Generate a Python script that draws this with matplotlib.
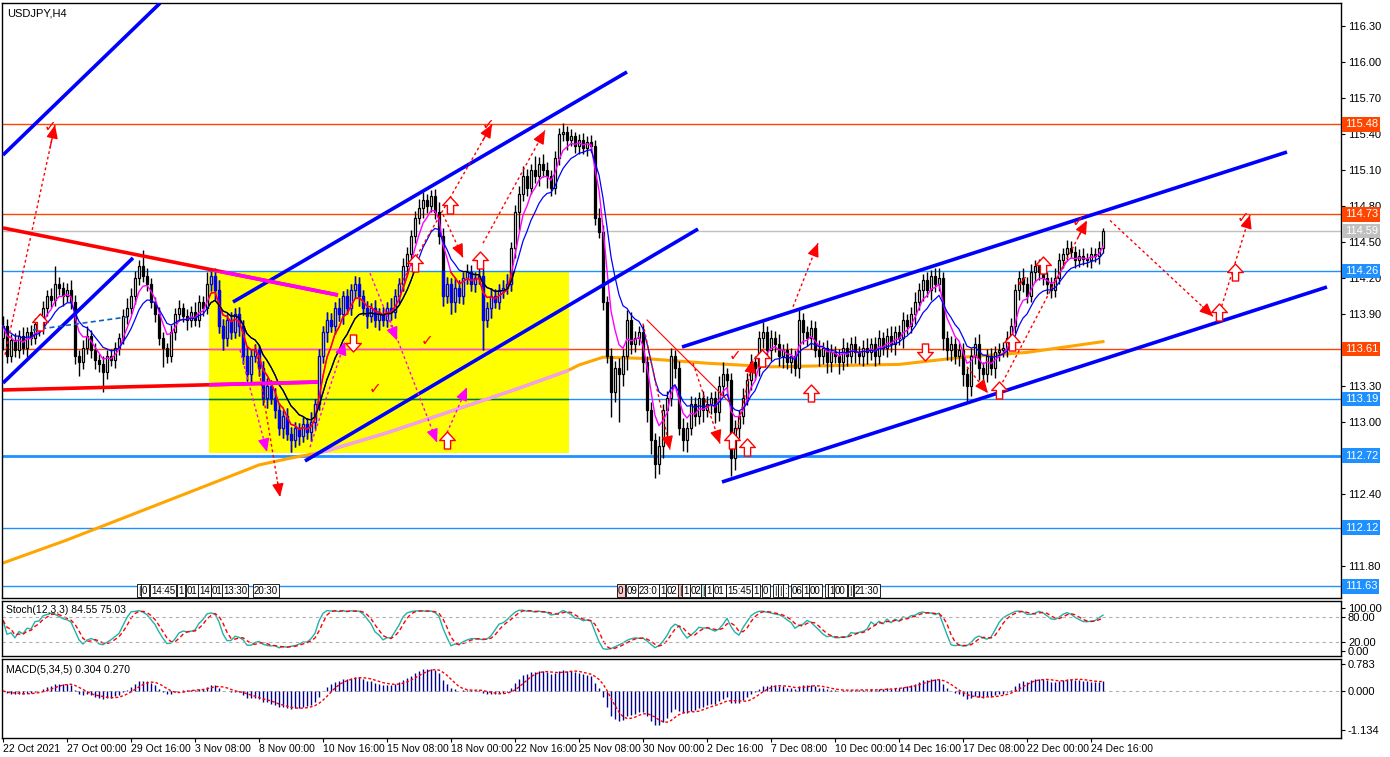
import numpy as np
import pandas as pd
import matplotlib
matplotlib.use("Agg")
import matplotlib.pyplot as plt
from matplotlib.patches import Rectangle
from matplotlib.path import Path

plt.rcParams['font.family'] = ['Liberation Sans', 'DejaVu Sans']

# ---------------- data ----------------
first_open = 113.70
closes = [
 113.80,113.55,113.68,113.60,113.72,113.62,113.75,113.70,113.82,113.78,113.95,114.05,114.02,114.15,114.12,114.05,114.10,114.00,113.55,113.50,
 113.62,113.72,113.60,113.52,113.48,113.42,113.55,113.52,113.62,113.70,113.88,113.95,114.05,114.20,114.30,114.22,114.15,114.00,113.90,113.70,
 113.62,113.55,113.75,113.90,113.95,113.88,113.85,113.92,113.85,114.00,113.95,114.15,114.22,114.10,113.80,113.70,113.85,113.75,113.90,113.80,
 113.55,113.40,113.55,113.60,113.45,113.20,113.30,113.20,113.10,112.95,113.05,112.90,112.85,112.95,112.88,112.98,112.92,113.00,113.15,113.55,
 113.75,113.85,113.80,113.95,113.90,114.05,113.95,114.10,114.15,114.05,113.95,113.88,113.95,113.85,113.90,113.85,113.95,113.92,114.05,114.15,
 114.30,114.40,114.55,114.70,114.78,114.85,114.80,114.88,114.75,114.55,114.05,114.15,114.00,114.12,114.05,114.20,114.25,114.15,114.20,114.22,
 113.85,113.95,114.05,114.00,114.10,114.12,114.15,114.45,114.75,114.90,115.05,114.95,115.10,115.05,115.15,115.10,115.05,114.95,115.20,115.40,
 115.42,115.35,115.38,115.30,115.35,115.28,115.33,115.30,114.70,114.58,114.00,113.55,113.25,113.45,113.40,113.55,113.85,113.65,113.70,113.75,
 113.50,113.10,112.85,112.65,112.80,113.10,113.20,113.55,113.45,112.95,112.85,112.95,113.15,113.05,113.20,113.10,113.15,113.20,113.08,113.30,
 113.40,113.35,112.70,112.95,113.05,113.20,113.35,113.50,113.45,113.70,113.75,113.60,113.70,113.65,113.55,113.60,113.50,113.55,113.45,113.85,
 113.75,113.70,113.78,113.60,113.55,113.62,113.50,113.58,113.55,113.50,113.62,113.55,113.65,113.58,113.55,113.62,113.58,113.65,113.55,113.70,
 113.62,113.72,113.65,113.75,113.70,113.85,113.80,113.90,114.00,114.10,114.18,114.10,114.22,114.15,114.20,113.70,113.60,113.65,113.55,113.60,
 113.40,113.30,113.55,113.65,113.45,113.40,113.55,113.45,113.58,113.60,113.62,113.70,113.80,114.10,114.20,114.15,114.05,114.25,114.30,114.25,
 114.20,114.15,114.10,114.20,114.35,114.40,114.45,114.42,114.35,114.38,114.36,114.35,114.40,114.38,114.45,114.59]
# wick sizes in hundredths of a yen
wick_hi = [
 8,6,5,6,5,7,4,6,5,8,6,5,7,15,6,5,6,8,6,5,
 6,8,5,6,5,7,5,6,5,4,6,8,7,6,5,13,6,5,4,6,
 5,4,6,5,7,4,6,5,8,6,5,10,4,6,8,6,5,7,5,6,
 5,8,6,5,4,6,7,5,8,6,5,7,6,5,4,6,5,8,4,6,
 5,7,6,5,8,4,6,5,7,6,5,6,4,7,5,6,5,8,6,5,
 7,6,5,6,8,7,5,5,6,8,7,6,5,8,6,5,7,6,5,8,
 6,5,7,6,5,6,8,5,6,7,8,6,5,12,6,8,7,5,6,5,
 7,5,6,4,5,6,5,6,5,8,6,5,7,6,8,6,8,7,6,5,
 6,5,7,6,8,5,6,7,5,6,8,5,7,6,5,6,7,5,6,8,
 10,5,6,7,5,8,6,7,5,6,8,5,7,6,8,5,6,7,5,8,
 6,5,7,6,8,5,6,7,5,6,8,5,6,7,5,6,8,5,6,7,
 5,6,8,5,6,7,5,6,8,6,5,7,5,6,8,5,6,7,5,6,
 6,5,7,6,8,5,6,7,5,6,5,6,7,5,6,8,6,7,5,6,
 7,5,6,8,6,5,7,6,5,6,7,5,6,5,6,3]
wick_lo = [
 10,6,5,6,7,5,8,6,5,6,5,7,6,5,6,8,5,6,7,12,
 6,5,7,8,6,17,6,5,7,6,5,6,5,7,6,5,6,5,7,6,
 16,6,5,7,6,5,8,6,5,6,7,5,6,8,6,10,7,6,5,8,
 7,6,8,5,7,6,8,5,7,6,8,5,10,6,7,5,6,8,6,5,
 6,8,5,7,6,8,5,6,7,8,6,10,5,6,8,5,6,7,5,6,
 6,5,7,6,5,8,6,5,6,7,8,6,10,8,6,7,5,6,7,5,
 25,6,8,5,6,7,5,6,8,15,6,7,5,6,8,6,10,7,5,6,
 6,8,5,6,7,5,6,5,6,5,7,6,21,8,40,10,12,8,7,6,
 8,10,12,12,8,10,25,7,8,6,9,10,6,8,7,10,6,8,9,7,
 8,10,15,10,8,7,6,8,10,7,8,6,9,7,8,10,6,9,7,8,
 10,7,9,6,8,7,9,8,6,10,7,8,6,9,7,8,10,6,8,7,
 6,8,7,9,6,8,7,6,8,7,9,6,8,7,6,10,8,9,7,8,
 10,14,8,7,10,8,7,6,8,7,6,8,7,6,8,7,6,5,8,7,
 6,8,7,6,5,7,6,5,7,6,5,6,7,5,6,4]

date_labels = ["22 Oct 2021", "27 Oct 00:00", "29 Oct 16:00", "3 Nov 08:00", "8 Nov 00:00",
               "10 Nov 16:00", "15 Nov 08:00", "18 Nov 00:00", "22 Nov 16:00", "25 Nov 08:00",
               "30 Nov 00:00", "2 Dec 16:00", "7 Dec 08:00", "10 Dec 00:00", "14 Dec 16:00",
               "17 Dec 08:00", "22 Dec 00:00", "24 Dec 16:00"]
date_bars = [0, 16, 32, 48, 64, 80, 96, 112, 128, 144, 160, 176, 192, 208, 224, 240, 256, 272]

price_ticks = [116.30, 116.00, 115.70, 115.40, 115.10, 114.80, 114.50, 114.20,
               113.90, 113.30, 113.00, 112.40, 111.80]
level_prices = [115.48, 114.73, 114.59, 114.26, 113.61, 113.19, 112.72, 112.12, 111.63]
level_colors = ['#FF4500', '#FF4500', '#C0C0C0', '#1E90FF', '#FF4500', '#1E90FF', '#1E90FF', '#1E90FF', '#1E90FF']
level_widths = [1, 1, 1, 1, 1, 1, 2, 1, 1]

# 200-period MA readings (bar, price)
ma200_bars = [0, 16, 32, 48, 64, 72, 80, 96, 112, 128, 141, 144, 150, 160, 176, 192, 208, 224, 240, 256, 275]
ma200_vals = [111.825, 112.017, 112.225, 112.433, 112.642, 112.70, 112.75, 112.91, 113.09, 113.27, 113.425,
              113.475, 113.54, 113.53, 113.49, 113.46, 113.47, 113.48, 113.54, 113.58, 113.67]

# trend lines (bar0, price0, bar1, price1)
blue_lines = [(0, 115.225, 39.25, 116.49), (0, 113.325, 32.5, 114.367), (57.5, 114.0, 156, 115.917),
              (75.5, 112.675, 173.75, 114.608), (169.75, 113.625, 321, 115.25), (179.75, 112.50, 331, 114.125)]
red_lines = [(0, 114.617, 83.75, 114.058), (0, 113.267, 78.75, 113.333)]
box_rect = (51.5, 112.74, 141.5, 114.26)

red_arrows = [(0.5, 113.56, 13, 115.475), (63, 113.64, 69.25, 112.375), (99.25, 114.14, 122.25, 115.48),
              (120, 114.49, 135.5, 115.43), (110, 114.73, 115, 114.37), (160, 113.82, 166.75, 112.77),
              (172.5, 113.49, 179.25, 112.82), (183.5, 112.93, 187.5, 113.52), (197.5, 113.96, 203.75, 114.49),
              (241, 113.46, 246.25, 113.24), (249.25, 113.29, 271, 114.68), (276.75, 114.68, 302.5, 113.88),
              (304.25, 113.92, 311.75, 114.725)]
magenta_arrows = [(59.25, 113.60, 66, 112.75), (76.75, 112.79, 85.5, 113.67), (96.75, 113.85, 108.5, 112.83),
                  (111, 112.91, 116, 113.29), (91.75, 114.24, 98.5, 113.68)]
checks = [(11.75, 115.46), (121.25, 115.475), (268.75, 114.67), (310, 114.70), (183, 113.55),
          (106, 113.675), (93, 113.275), (254.75, 114.17)]
up_hollow = [(9.25, 113.83), (111.75, 114.81), (103, 114.325), (119.25, 114.35), (111, 112.85), (202, 113.24),
             (186, 112.79), (182.25, 112.85), (260, 114.31), (308, 114.25), (249, 113.27), (304, 113.92),
             (189.75, 113.53), (252.25, 113.67)]
down_hollow = [(230.5, 113.58), (87.5, 113.66)]

time_tags1 = [(33.75, "|"), (34.75, "0"), (37, "14:45"), (43.75, "1"), (46, "01"), (49, "14"),
              (52.25, "01"), (55, "13:30"), (62.75, "20:30")]
time_tags2 = [(153.75, "0"), (156, "09"), (159, "23:0"), (164.25, "1"), (166, "02"), (169, "|"), (170, "1"),
              (172, "02"), (174.75, "|"), (175.75, "1"), (177.75, "01"), (181, "15:45"), (187.5, "1"),
              (190, "0"), (192.75, "|"), (194, "|"), (195.25, ":"), (197.25, "06"), (200, "1"), (201.75, "00"),
              (205.75, "|"), (206.5, "1"), (208, "00"), (211.5, "|"), (213, "21:30")]

# ---------------- computations ----------------
c = np.array(closes)
o = np.r_[first_open, c[:-1]]
hi = np.maximum(o, c) + np.array(wick_hi) / 100.0
lo = np.minimum(o, c) - np.array(wick_lo) / 100.0
idx = np.arange(len(c))
cs = pd.Series(c)
ma_fast = cs.ewm(span=5, adjust=False).mean().values
ma_slow = cs.ewm(span=10, adjust=False).mean().values

hh = pd.Series(hi).rolling(12, min_periods=1).max()
ll = pd.Series(lo).rolling(12, min_periods=1).min()
num = (cs - ll).rolling(3, min_periods=1).sum()
den = (hh - ll).rolling(3, min_periods=1).sum()
stoch_k = (100 * num / den).values
stoch_d = pd.Series(stoch_k).rolling(3, min_periods=1).mean().values

macd = (cs.ewm(span=5, adjust=False).mean() - cs.ewm(span=34, adjust=False).mean()).values
macd_sig = pd.Series(macd).rolling(5, min_periods=1).mean().values

# ---------------- figure ----------------
W, H = 1390, 757
fig = plt.figure(figsize=(W / 100, H / 100), dpi=100)
fig.patch.set_facecolor('white')

def ax_at(x0, y0, x1, y1, **kw):
    return fig.add_axes([x0 / W, 1 - y1 / H, (x1 - x0) / W, (y1 - y0) / H], **kw)

ax = ax_at(2, 3, 1341, 598)
axs = ax_at(2, 601, 1341, 656, sharex=ax)
axm = ax_at(2, 659, 1341, 738, sharex=ax)

XL = (-0.25, 334.5)
ax.set_xlim(*XL)
ax.set_ylim(111.5333, 116.4917)

for a in (ax, axs, axm):
    for s in a.spines.values():
        s.set_color('black')
        s.set_linewidth(1)
    a.yaxis.tick_right()
    a.tick_params(axis='y', direction='out', length=3, pad=2, labelsize=8, width=0.8)
    a.tick_params(axis='x', length=0, labelbottom=False)

# yellow box
bx0, by0, bx1, by1 = box_rect
ax.add_patch(Rectangle((bx0, by0), bx1 - bx0, by1 - by0, facecolor='#FFFF00', edgecolor='none', zorder=0.5))
clip = Rectangle((bx0, by0), bx1 - bx0, by1 - by0, transform=ax.transData)

# horizontal levels
for p, col, lw in zip(level_prices, level_colors, level_widths):
    ax.axhline(p, color=col, lw=lw, zorder=1)
for p, col in ((113.61, '#FF40FF'), (113.19, '#008000')):
    ln = ax.plot(XL, [p, p], color=col, lw=1, zorder=1.1)[0]
    ln.set_clip_path(clip)

# 200 MA
ax.plot(ma200_bars, ma200_vals, color='#FFA500', lw=2.2, zorder=2)
ln = ax.plot(ma200_bars, ma200_vals, color='#F0A0F0', lw=2.4, zorder=2.1)[0]
ln.set_clip_path(clip)

# candles
def candles(edge, up_face, dn_face, z, clip_path=None):
    arts = []
    arts.append(ax.vlines(idx, lo, hi, color=edge, lw=1, zorder=z))
    bottom = np.minimum(o, c)
    height = np.maximum(np.abs(c - o), 0.006)
    up = c >= o
    b1 = ax.bar(idx[up], height[up], bottom=bottom[up], width=0.6, facecolor=up_face,
                edgecolor=edge, lw=0.9, zorder=z + 0.01)
    b2 = ax.bar(idx[~up], height[~up], bottom=bottom[~up], width=0.6, facecolor=dn_face,
                edgecolor=edge, lw=0.9, zorder=z + 0.01)
    arts += list(b1.patches) + list(b2.patches)
    if clip_path is not None:
        for a in arts:
            a.set_clip_path(clip_path)

candles('black', 'white', 'black', 3)
candles('#0000FF', '#FFFF00', '#0000FF', 3.2, clip)

# fast / slow MAs
ax.plot(idx, ma_fast, color='#FF00FF', lw=1, zorder=4)
ax.plot(idx, ma_slow, color='#0000FF', lw=0.9, zorder=4)
ln = ax.plot(idx, ma_fast, color='#FF0000', lw=1, zorder=4.1)[0]; ln.set_clip_path(clip)
ln = ax.plot(idx, ma_slow, color='#000000', lw=0.9, zorder=4.1)[0]; ln.set_clip_path(clip)

# trend lines
for x0, y0, x1, y1 in blue_lines:
    ax.plot([x0, x1], [y0, y1], color='#0000FF', lw=2.6, zorder=5, solid_capstyle='butt')
for x0, y0, x1, y1 in red_lines:
    ax.plot([x0, x1], [y0, y1], color='#FF0000', lw=2.6, zorder=5, solid_capstyle='butt')
    ln = ax.plot([x0, x1], [y0, y1], color='#FF00FF', lw=2.6, zorder=5.1, solid_capstyle='butt')[0]
    ln.set_clip_path(clip)
ax.plot([7.5, 31], [113.767, 113.875], color='#1060C0', lw=1.2, ls=(0, (3, 2)), zorder=5)
ax.plot([161, 181.75], [113.85, 113.16], color='#FF0000', lw=0.8, zorder=5)

def arrow(x0, y0, x1, y1, col):
    ax.plot([x0, x1], [y0, y1], color=col, lw=1, ls=(0, (2, 2)), zorder=6)
    ax.annotate('', xy=(x1, y1), xytext=(x0 + (x1 - x0) * 0.9, y0 + (y1 - y0) * 0.9),
                arrowprops=dict(arrowstyle='-|>,head_width=0.35,head_length=0.8', color=col, lw=1,
                                shrinkA=0, shrinkB=0), zorder=6)

for a in red_arrows:
    arrow(*a, '#FF0000')
for a in magenta_arrows:
    arrow(*a, '#FF00FF')
for x, y in checks:
    ax.text(x, y, '\u2713', color='#FF0000', fontsize=11, fontweight='bold', ha='center', va='center',
            zorder=7, family='DejaVu Sans')

# hollow arrow markers
up_path = Path([(-0.22, -0.6), (0.22, -0.6), (0.22, 0.0), (0.55, 0.0), (0.0, 0.6),
                (-0.55, 0.0), (-0.22, 0.0), (-0.22, -0.6)], closed=True)
dn_path = Path([(x, -y) for x, y in up_path.vertices], closed=True)
ax.scatter([p[0] for p in up_hollow], [p[1] for p in up_hollow], marker=up_path, s=150,
           facecolors='white', edgecolors='#FF0000', linewidths=1, zorder=7)
ax.scatter([p[0] for p in down_hollow], [p[1] for p in down_hollow], marker=dn_path, s=150,
           facecolors='white', edgecolors='#FF0000', linewidths=1, zorder=7)

# time tags near bottom of main panel
for x, t in time_tags1 + time_tags2:
    fc = '#FFC8C8' if (x == 153.75 or x == 169) else ('#C8F0F0' if x == 174.75 else 'white')
    ax.text(x, 111.595, t, fontsize=7, ha='left', va='center', zorder=8,
            bbox=dict(boxstyle='square,pad=0.12', fc=fc, ec='black', lw=0.6))

ax.text(0.004, 0.99, 'USDJPY,H4', transform=ax.transAxes, fontsize=8, ha='left', va='top')

# right price scale
ax.set_yticks(price_ticks)
ax.set_yticklabels(['%.2f' % p for p in price_ticks])
ytr = ax.get_yaxis_transform()
for p, col in zip(level_prices, level_colors):
    ax.text(1.0027, p, '%.2f' % p, transform=ytr, fontsize=8, color='white', ha='left', va='center',
            clip_on=False, zorder=10,
            bbox=dict(boxstyle='square,pad=0.2', fc=col, ec='none'))

# ---------------- stochastic ----------------
axs.set_ylim(-11.6, 116.3)
axs.plot(idx, stoch_k, color='#20B2AA', lw=1)
axs.plot(idx, stoch_d, color='#FF0000', lw=1, ls=(0, (3, 2)))
for lvl in (80, 20):
    axs.axhline(lvl, color='#B0B0B0', lw=0.8, ls=(0, (3, 3)))
axs.set_yticks([100, 80, 20, 0])
axs.set_yticklabels(['100.00', '80.00', '20.00', '0.00'])
axs.text(0.003, 0.93, 'Stoch(12,3,3) 84.55 75.03', transform=axs.transAxes, fontsize=7.5, ha='left', va='top')

# ---------------- MACD ----------------
axm.set_ylim(-1.367, 0.928)
axm.axhline(0, color='#B0B0B0', lw=0.8, ls=(0, (3, 3)))
axm.vlines(idx, 0, macd, color='#00008B', lw=1)
axm.plot(idx, macd_sig, color='#FF0000', lw=1, ls=(0, (2, 1.5)))
axm.set_yticks([0.783, 0.0, -1.134])
axm.set_yticklabels(['0.783', '0.000', '-1.134'])
axm.text(0.003, 0.93, 'MACD(5,34,5) 0.304 0.270', transform=axm.transAxes, fontsize=7.5, ha='left', va='top')

axm.set_xticks(date_bars)
axm.set_xticklabels(date_labels)
axm.tick_params(axis='x', direction='out', length=3, labelbottom=True, labelsize=7.5, pad=1.5)
for t in axm.get_xticklabels():
    t.set_ha('left')

fig.savefig('out.png', dpi=100)
